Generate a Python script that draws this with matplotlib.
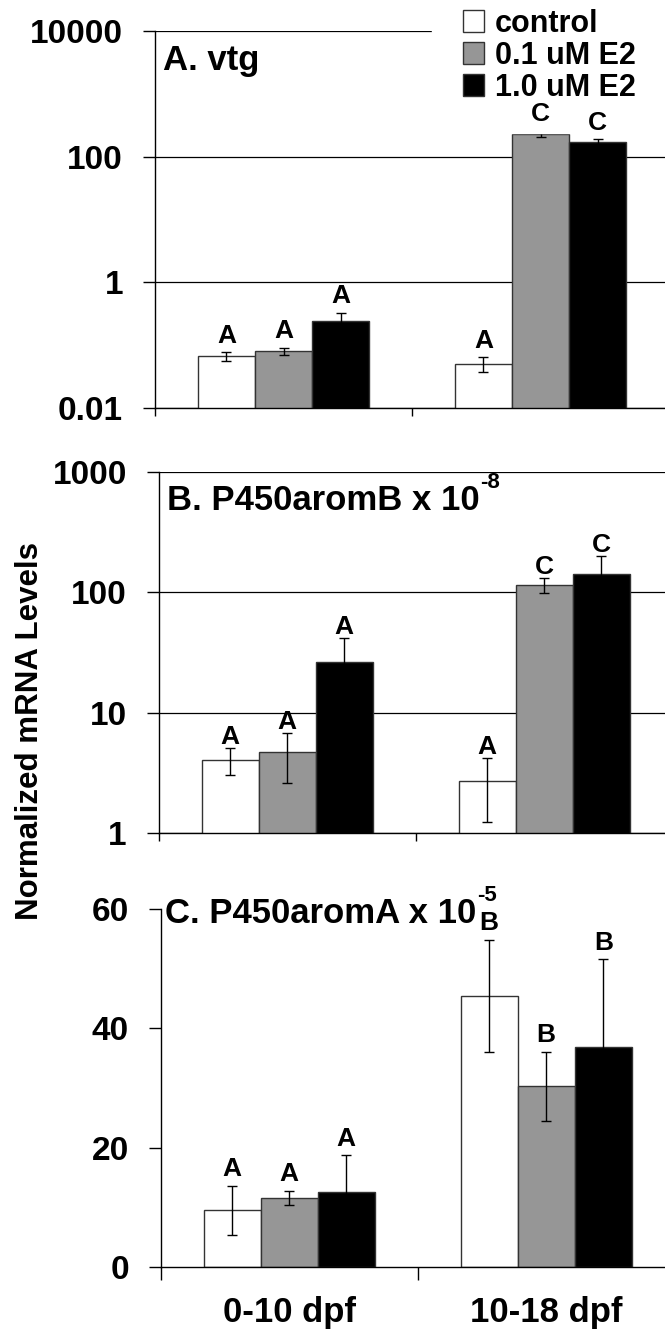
import matplotlib.pyplot as plt
from matplotlib.ticker import FixedLocator, NullLocator

plt.rcParams['font.family'] = ['Liberation Sans', 'DejaVu Sans']
plt.rcParams['font.weight'] = 'bold'

groups = ['0-10 dpf', '10-18 dpf']
treatments = ['control', '0.1 uM E2', '1.0 uM E2']
colors = ['white', '#969696', 'black']

# values per treatment, one entry per group
vtg_mean = [[0.067, 0.051], [0.080, 232], [0.24, 169]]
vtg_err = [[0.010, 0.013], [0.010, 24], [0.09, 20]]
vtg_letters = [['A', 'A'], ['A', 'C'], ['A', 'C']]

aromB_mean = [[4.07, 2.73], [4.72, 115], [26.6, 141]]
aromB_err = [[1.0, 1.5], [2.1, 17], [15, 60]]
aromB_letters = [['A', 'A'], ['A', 'C'], ['A', 'C']]

aromA_mean = [[9.5, 45.5], [11.5, 30.3], [12.6, 36.9]]
aromA_err = [[4.1, 9.4], [1.2, 5.8], [6.1, 14.7]]
aromA_letters = [['A', 'B'], ['A', 'B'], ['A', 'B']]

W, H = 665, 1332
fig = plt.figure(figsize=(W / 100, H / 100), dpi=100)

panels = [
    dict(mean=vtg_mean, err=vtg_err, letters=vtg_letters, log=True,
         ylim=(0.01, 10000), yticks=[0.01, 1, 100, 10000],
         ylabels=['0.01', '1', '100', '10000'],
         rect=(155, 31, 408), title='A. vtg', sup=None, tpos=(163, 70),
         loff=7, xtick=6),
    dict(mean=aromB_mean, err=aromB_err, letters=aromB_letters, log=True,
         ylim=(1, 1000), yticks=[1, 10, 100, 1000],
         ylabels=['1', '10', '100', '1000'],
         rect=(158.7, 471.7, 833.3), title='B. P450aromB x 10', sup='-8',
         tpos=(167, 510), loff=3, xtick=6),
    dict(mean=aromA_mean, err=aromA_err, letters=aromA_letters, log=False,
         ylim=(0, 60), yticks=[0, 20, 40, 60],
         ylabels=['0', '20', '40', '60'],
         rect=(160.7, 909.3, 1266.7), title='C. P450aromA x 10', sup='-5',
         tpos=(165, 923), loff=7, xtick=9),
]

cat_px = 257
bw = 0.222
for i, p in enumerate(panels):
    left, top, bottom = p['rect']
    ax = fig.add_axes([left / W, 1 - bottom / H, 2 * cat_px / W, (bottom - top) / H])
    if p['log']:
        ax.set_yscale('log')
    bars = []
    for k in range(3):
        xs = [g + (k - 1) * bw for g in range(len(groups))]
        b = ax.bar(xs, p['mean'][k], width=bw, color=colors[k],
                   edgecolor='#333333', linewidth=1, label=treatments[k], zorder=2)
        bars.append(b)
        ax.errorbar(xs, p['mean'][k], yerr=p['err'][k], fmt='none', ecolor='black',
                    elinewidth=1, capsize=3.5, capthick=1, zorder=3)
        for x, m, e, lt in zip(xs, p['mean'][k], p['err'][k], p['letters'][k]):
            ax.annotate(lt, xy=(x, m + e), xytext=(0, p['loff']), textcoords='offset points',
                        ha='center', va='baseline', fontsize=19, fontweight='bold', zorder=10)
    ax.set_xlim(-0.5, 1.5)
    ax.set_ylim(*p['ylim'])
    ax.yaxis.set_major_locator(FixedLocator(p['yticks']))
    ax.yaxis.set_minor_locator(NullLocator())
    ax.set_yticklabels(p['ylabels'])
    ax.tick_params(axis='y', which='major', length=9, width=1, pad=14, labelsize=24)
    ax.set_xticks(range(len(groups)))
    ax.set_xticks([-0.5, 0.5, 1.5], minor=True)
    ax.tick_params(axis='x', which='major', length=0, pad=21, labelsize=25)
    ax.tick_params(axis='x', which='minor', length=p['xtick'], width=1, direction='out')
    if i < 2:
        ax.set_xticklabels([])
        ax.yaxis.grid(True, color='black', linewidth=0.9)
    else:
        ax.set_xticklabels(groups)
    ax.set_axisbelow(True)
    for s in ['top', 'right']:
        ax.spines[s].set_visible(False)
    for s in ['left', 'bottom']:
        ax.spines[s].set_linewidth(1)
    t = fig.text(p['tpos'][0] / W, 1 - p['tpos'][1] / H, p['title'],
                 fontsize=25, fontweight='bold', va='baseline', ha='left', zorder=9)
    if p['sup']:
        ax.annotate(p['sup'], xy=(1, 0), xycoords=t, xytext=(0.5, 21),
                    textcoords='offset points', fontsize=16, fontweight='bold',
                    va='baseline', ha='left', zorder=9)
    if i == 0:
        ax.legend(handles=bars, loc='upper left', bbox_to_anchor=(432 / W, 1 + 22 / H),
                  bbox_transform=fig.transFigure, fontsize=22, frameon=True,
                  fancybox=False, facecolor='white', edgecolor='white', framealpha=1,
                  borderpad=1.0, handlelength=0.7, handleheight=0.7,
                  handletextpad=0.35, labelspacing=0.07, borderaxespad=0)

fig.text(30 / W, 1 - 731.5 / H, 'Normalized mRNA Levels', rotation=90,
         ha='center', va='center', fontsize=22.5, fontweight='bold')

fig.savefig('out.png', dpi=100)
